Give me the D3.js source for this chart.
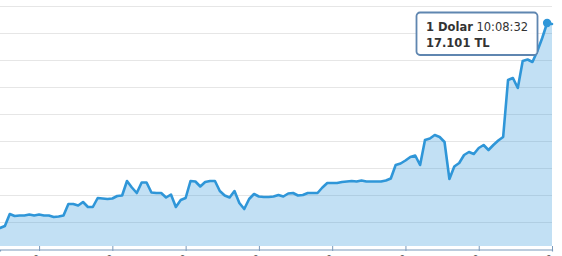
<!DOCTYPE html>
<html>
<head>
<meta charset="utf-8">
<script src="https://cdn.jsdelivr.net/npm/d3@7"></script>
<style>
  html, body { margin: 0; padding: 0; background: #fff; }
  svg { display: block; font-family: "DejaVu Sans", Verdana, sans-serif; }
</style>
</head>
<body>
<svg width="562" height="256"></svg>
<script>
(function (d3) {
  "use strict";

  // USD/TRY quotes, one every few minutes, oldest first
  var rates = [
    16.896, 16.898, 16.910, 16.908, 16.9085, 16.9085, 16.9095, 16.9085, 16.9095, 16.9085,
    16.9085, 16.907, 16.9075, 16.9085, 16.920, 16.920, 16.9185, 16.922, 16.917, 16.917,
    16.926, 16.9255, 16.925, 16.9255, 16.928, 16.9285, 16.943, 16.9365, 16.931, 16.9415,
    16.9415, 16.9315, 16.931, 16.931, 16.9265, 16.9295, 16.917, 16.924, 16.926, 16.943,
    16.9425, 16.9375, 16.942, 16.943, 16.943, 16.933, 16.9285, 16.9265, 16.933, 16.921,
    16.915, 16.925, 16.930, 16.9275, 16.927, 16.927, 16.9275, 16.929, 16.9275, 16.9305,
    16.931, 16.9285, 16.929, 16.931, 16.931, 16.931, 16.9365, 16.941, 16.941, 16.941,
    16.942, 16.9425, 16.943, 16.9425, 16.9435, 16.9425, 16.9425, 16.9425, 16.9425, 16.9435,
    16.9455, 16.959, 16.9605, 16.9635, 16.967, 16.9685, 16.959, 16.984, 16.9855, 16.989,
    16.987, 16.982, 16.945, 16.9575, 16.961, 16.969, 16.972, 16.970, 16.976, 16.979,
    16.974, 16.979, 16.9835, 16.987, 17.044, 17.046, 17.036, 17.063, 17.0645, 17.062,
    17.073, 17.086, 17.101, 17.100
  ];

  var tickIndex = [8, 23, 38, 53, 68, 83, 98, 113];
  var tickLabels = ["03:12", "04:12", "05:12", "06:12", "07:12", "08:12", "09:12", "10:12"];
  var gridValues = [17.118, 17.091, 17.064, 17.037, 17.010, 16.983, 16.956, 16.929, 16.902];
  var yMin = 16.875;
  var yMax = 17.118;
  var baseValue = 16.878;

  var hoverIndex = 112;
  var tooltipName = "1 Dolar";
  var tooltipTime = "10:08:32";
  var tooltipUnit = "TL";

  var svg = d3.select("svg");
  var plotRight = 552;
  var axisY = 249.5;

  var x = d3.scaleLinear().domain([0, rates.length - 1]).range([0, plotRight]);
  var y = d3.scaleLinear().domain([yMin, yMax]).range([249, 6]);

  var lineColor = "#2f96d8";

  // grid
  svg.append("g")
    .selectAll("line")
    .data(gridValues)
    .enter()
    .append("line")
    .attr("x1", 0)
    .attr("x2", plotRight)
    .attr("y1", function (d) { return Math.round(y(d)) + 0.5; })
    .attr("y2", function (d) { return Math.round(y(d)) + 0.5; })
    .attr("stroke", "#e6e6e6")
    .attr("stroke-width", 1);

  var area = d3.area()
    .x(function (d, i) { return x(i); })
    .y0(y(baseValue))
    .y1(function (d) { return y(d); });

  var line = d3.line()
    .x(function (d, i) { return x(i); })
    .y(function (d) { return y(d); });

  svg.append("path")
    .datum(rates)
    .attr("d", area)
    .attr("fill", "rgb(52,152,219)")
    .attr("fill-opacity", 0.3);

  svg.append("path")
    .datum(rates)
    .attr("d", line)
    .attr("fill", "none")
    .attr("stroke", lineColor)
    .attr("stroke-width", 2.6)
    .attr("stroke-linejoin", "round")
    .attr("stroke-linecap", "round");

  // x axis
  var xAxis = d3.axisBottom(x)
    .tickValues(tickIndex)
    .tickSizeOuter(0)
    .tickSize(2)
    .tickFormat(function (d, i) { return tickLabels[i]; });

  var axisG = svg.append("g")
    .attr("transform", "translate(0," + axisY + ")")
    .call(xAxis);

  axisG.select(".domain").attr("stroke", "#7b9abb").attr("stroke-width", 1.2);
  axisG.selectAll(".tick line")
    .attr("stroke", "#7b9abb")
    .attr("y1", -3.5)
    .attr("y2", 1.5);
  axisG.selectAll(".tick text")
    .attr("fill", "#666")
    .attr("font-size", "11px")
    .attr("font-family", "DejaVu Sans, sans-serif")
    .attr("text-anchor", "end")
    .attr("y", 0)
    .attr("dy", 0)
    .attr("transform", "translate(3,9.5) rotate(-45)");

  // hovered point
  svg.append("circle")
    .attr("cx", x(hoverIndex))
    .attr("cy", y(rates[hoverIndex]))
    .attr("r", 4.2)
    .attr("fill", lineColor);

  // tooltip
  var tip = svg.append("g").attr("transform", "translate(416.5,12.5)");
  tip.append("rect")
    .attr("width", 121)
    .attr("height", 42.5)
    .attr("rx", 3.5)
    .attr("fill", "#fff")
    .attr("fill-opacity", 0.92)
    .attr("stroke", "#5f86b0")
    .attr("stroke-width", 1.8);

  var t1 = tip.append("text")
    .attr("x", 9.5)
    .attr("y", 18.5)
    .attr("font-size", "11.5px")
    .attr("fill", "#333");
  t1.append("tspan").attr("font-weight", "bold").text(tooltipName);
  t1.append("tspan").text(" " + tooltipTime);

  tip.append("text")
    .attr("x", 9.5)
    .attr("y", 34)
    .attr("font-size", "11.5px")
    .attr("font-weight", "bold")
    .attr("fill", "#333")
    .text(d3.format(".3f")(rates[hoverIndex]) + " " + tooltipUnit);
})(d3);
</script>
</body>
</html>
